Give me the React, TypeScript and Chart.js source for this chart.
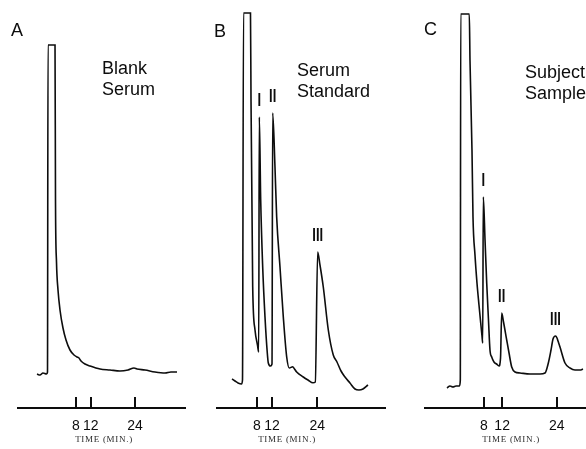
import React, { useEffect, useRef } from 'react';
import { Chart, registerables } from 'chart.js';

Chart.register(...registerables);

// ---- data (minutes / detector response, arbitrary units) ----
const TICK_MINUTES = [8, 12, 24];
const PEAK_NAMES = ['I', 'II', 'III'];

const A_TIME = [-2.58, -1.76, -0.95, 0.0, 0.27, 0.41, 2.31, 2.44, 2.71, 3.12, 3.66, 4.47, 5.29, 6.37, 7.46, 8.27, 8.81, 9.36, 10.44, 11.8, 14.51, 17.22, 19.93, 22.1, 23.73, 24.54, 26.71, 29.42, 32.14, 33.76, 35.39];
const A_SIGNAL = [8.5, 8.25, 8.75, 8.5, 9, 90.75, 90.75, 52, 36.5, 29.5, 24.5, 20, 17, 14.5, 13.25, 12.75, 12.5, 11.75, 11, 10.5, 9.75, 9.5, 9.25, 9.5, 10, 9.75, 9.5, 9, 8.75, 9, 9];

const B_TIME = [1.37, 2.16, 2.96, 3.89, 4.15, 4.42, 6.27, 6.41, 6.86, 7.47, 8.13, 8.45, 8.61, 8.98, 9.51, 10.12, 10.73, 11.0, 11.58, 11.98, 12.16, 12.77, 13.22, 14.1, 14.98, 15.88, 16.57, 17.47, 17.95, 18.53, 20.28, 21.53, 22.86, 23.47, 24.1, 24.71, 25.59, 26.92, 28.24, 29.22, 30.29, 31.35, 32.67, 34.0, 35.06, 36.12, 37.45];
const B_SIGNAL = [7.25, 6.75, 6.25, 6.0, 7, 98.75, 98.75, 77, 30.25, 19.5, 15.75, 14, 72.75, 52, 35.25, 22.75, 13.75, 11.25, 10.5, 11, 73.75, 60.25, 47.75, 35.25, 22.75, 12.75, 10, 10.3, 9.75, 9, 7.75, 7, 6.3, 6.5, 39, 35.75, 30.25, 19.5, 13.25, 11.5, 9.25, 7.75, 6.25, 4.75, 4.5, 4.75, 5.75];
const B_PEAK_TIME = [8.61, 12.16, 24.1];
const B_PEAK_SIGNAL = [72.75, 73.75, 39];

const C_TIME = [-0.14, 0.52, 1.18, 1.84, 2.61, 2.79, 2.88, 4.77, 4.92, 5.36, 5.58, 6.02, 6.46, 6.9, 7.28, 7.56, 7.72, 7.85, 8.23, 8.6, 8.99, 9.32, 9.7, 10.2, 10.76, 11.31, 11.64, 11.9, 12.3, 13.0, 13.51, 14.1, 14.83, 15.93, 18.13, 20.33, 21.43, 22.16, 22.75, 23.19, 23.74, 24.07, 24.29, 24.73, 25.83, 26.93, 28.03, 29.13, 29.79];
const C_SIGNAL = [5, 5.5, 5.25, 5.5, 5.5, 7, 98.5, 98.5, 87, 64.5, 47.8, 38.25, 31.25, 25.75, 21.25, 18, 16.25, 52.75, 42, 31.25, 22, 14.5, 12.75, 11.5, 11, 10.5, 12.5, 23.75, 21.5, 17, 13.75, 10.25, 9, 8.75, 8.5, 8.5, 8.75, 11.25, 14.5, 17.25, 18, 17.5, 16.75, 15.25, 11.25, 10, 9.5, 9.5, 9.75];
const C_PEAK_TIME = [7.85, 11.9, 23.74];
const C_PEAK_SIGNAL = [52.75, 23.75, 18];

// ---- layout / style ----
const W = 586;
const H = 449;
const INK = '#0d0d0d';
const SANS = '"Liberation Sans", Arial, Helvetica, sans-serif';

type PanelCfg = {
  letter: string;
  lines: string[];
  time: number[];
  signal: number[];
  peakTime: number[];
  peakSignal: number[];
  left: number;
  width: number;
  xMin: number;
  xMax: number;
  titleX: number;
  letterPos: { left: number; top: number };
  textPos: { left: number; top: number };
};

const PANELS: PanelCfg[] = [
  {
    letter: 'A', lines: ['Blank', 'Serum'], time: A_TIME, signal: A_SIGNAL,
    peakTime: [], peakSignal: [],
    left: 17, width: 169, xMin: -8, xMax: 37.83, titleX: 87,
    letterPos: { left: 11, top: 21 }, textPos: { left: 102, top: 58 },
  },
  {
    letter: 'B', lines: ['Serum', 'Standard'], time: B_TIME, signal: B_SIGNAL,
    peakTime: B_PEAK_TIME, peakSignal: B_PEAK_SIGNAL,
    left: 216, width: 170, xMin: -2.88, xMax: 42.23, titleX: 71,
    letterPos: { left: 214, top: 22 }, textPos: { left: 297, top: 60 },
  },
  {
    letter: 'C', lines: ['Subject', 'Sample'], time: C_TIME, signal: C_SIGNAL,
    peakTime: C_PEAK_TIME, peakSignal: C_PEAK_SIGNAL,
    left: 424, width: 162, xMin: -5.2, xMax: 30.45, titleX: 87,
    letterPos: { left: 424, top: 20 }, textPos: { left: 525, top: 62 },
  },
];

const overlayPlugin = {
  id: 'overlay',
  afterDraw(chart: any, _args: any, opts: any) {
    const { ctx } = chart;
    const xs = chart.scales.x;
    const ys = chart.scales.y;
    ctx.save();
    // upward tick marks
    ctx.strokeStyle = INK;
    ctx.lineWidth = 2;
    xs.ticks.forEach((t: any) => {
      const px = Math.round(xs.getPixelForValue(t.value));
      ctx.beginPath();
      ctx.moveTo(px, xs.top);
      ctx.lineTo(px, xs.top - 11);
      ctx.stroke();
    });
    // axis title
    ctx.fillStyle = '#2a2a2a';
    ctx.font = '9px "Liberation Serif", "DejaVu Serif", serif';
    try { ctx.letterSpacing = '0.7px'; } catch (e) { /* ignore */ }
    ctx.textAlign = 'center';
    ctx.textBaseline = 'middle';
    ctx.fillText('TIME (MIN.)', opts.titleX, 440);
    try { ctx.letterSpacing = '0px'; } catch (e) { /* ignore */ }
    // peak labels (condensed bold numerals)
    ctx.fillStyle = INK;
    ctx.font = 'bold 18px ' + SANS;
    (opts.peakTime || []).forEach((t: number, i: number) => {
      const px = xs.getPixelForValue(t);
      const py = ys.getPixelForValue(opts.peakSignal[i]);
      ctx.save();
      ctx.translate(px, py - 16);
      ctx.scale(0.72, 1);
      ctx.fillText(PEAK_NAMES[i], 0, 0);
      ctx.restore();
    });
    ctx.restore();
  },
};

function Panel({ cfg }: { cfg: PanelCfg }) {
  const ref = useRef<HTMLCanvasElement>(null);
  useEffect(() => {
    if (!ref.current) return;
    const chart = new Chart(ref.current, {
      type: 'line',
      data: {
        datasets: [
          {
            data: cfg.time.map((t, i) => ({ x: t, y: cfg.signal[i] })),
            borderColor: INK,
            borderWidth: 1.6,
            pointRadius: 0,
            fill: false,
            cubicInterpolationMode: 'monotone',
          },
        ],
      },
      options: {
        animation: false,
        responsive: false,
        events: [],
        layout: { padding: { top: 8, left: 0, right: 0, bottom: 0 } },
        plugins: {
          legend: { display: false },
          tooltip: { enabled: false },
          title: { display: false },
          overlay: { titleX: cfg.titleX, peakTime: cfg.peakTime, peakSignal: cfg.peakSignal },
        } as any,
        scales: {
          x: {
            type: 'linear',
            position: 'bottom',
            min: cfg.xMin,
            max: cfg.xMax,
            grid: { display: false, drawTicks: false },
            border: { display: true, color: INK, width: 2 },
            ticks: {
              color: INK,
              font: { family: SANS, size: 14 },
              padding: 10,
              autoSkip: false,
              maxRotation: 0,
            },
            afterBuildTicks: (s: any) => {
              s.ticks = TICK_MINUTES.map((v) => ({ value: v }));
            },
            afterFit: (s: any) => {
              s.height = 41;
            },
          },
          y: { display: false, min: 0, max: 100 },
        },
      },
      plugins: [overlayPlugin as any],
    } as any);
    return () => chart.destroy();
  }, [cfg]);
  return (
    <canvas
      ref={ref}
      width={cfg.width}
      height={H}
      style={{ position: 'absolute', left: cfg.left, top: 0, width: cfg.width, height: H }}
    />
  );
}

export default function App() {
  return (
    <div
      style={{
        position: 'absolute', left: 0, top: 0, width: W, height: H,
        background: '#fff', overflow: 'hidden', fontFamily: SANS, color: INK,
      }}
    >
      {PANELS.map((p) => (
        <React.Fragment key={p.letter}>
          <Panel cfg={p} />
          <div style={{ position: 'absolute', left: p.letterPos.left, top: p.letterPos.top, fontSize: 18, lineHeight: '18px' }}>
            {p.letter}
          </div>
          <div style={{ position: 'absolute', left: p.textPos.left, top: p.textPos.top, fontSize: 18, lineHeight: '21px', whiteSpace: 'nowrap' }}>
            {p.lines.map((l) => (
              <div key={l}>{l}</div>
            ))}
          </div>
        </React.Fragment>
      ))}
    </div>
  );
}
